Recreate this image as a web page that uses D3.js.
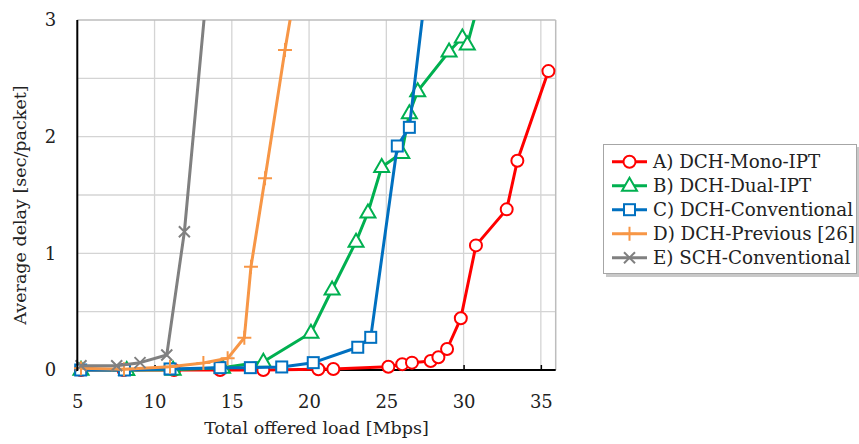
<!DOCTYPE html>
<html>
<head>
<meta charset="utf-8">
<script src="https://cdn.jsdelivr.net/npm/d3@7"></script>
<style>
  html, body { margin: 0; padding: 0; background: #fff; }
  svg { display: block; }
  text { font-family: "DejaVu Serif", serif; fill: #222; }
</style>
</head>
<body>
<svg id="chart" width="859" height="444"></svg>
<script>
// ---- data ----
const seriesNames = ["A) DCH-Mono-IPT", "B) DCH-Dual-IPT", "C) DCH-Conventional", "D) DCH-Previous [26]", "E) SCH-Conventional"];
const seriesColors = ["#ff0000", "#00b050", "#0070c0", "#f79646", "#808080"];
const seriesMarkers = ["circle", "triangle", "square", "plus", "cross"];

const loadA  = [5.24, 8.0, 11.26, 14.24, 17.04, 20.6, 21.57, 25.13, 26.03, 26.66, 27.87, 28.37, 28.93, 29.82, 30.8, 32.79, 33.48, 35.49];
const delayA = [0.0, 0.0, 0.0, 0.0, 0.0, 0.006, 0.009, 0.028, 0.05, 0.063, 0.077, 0.109, 0.18, 0.443, 1.068, 1.377, 1.794, 2.562];

const loadB  = [5.24, 8.2, 11.2, 14.4, 17.04, 20.12, 21.49, 23.04, 23.81, 24.7, 26.0, 26.49, 27.03, 29.06, 29.92, 30.24, 31.5];
const delayB = [0.003, 0.0, 0.003, 0.02, 0.07, 0.32, 0.69, 1.10, 1.35, 1.74, 1.86, 2.2, 2.39, 2.73, 2.85, 2.79, 3.4];

const loadC  = [5.22, 8.05, 11.0, 14.24, 16.2, 18.23, 20.27, 23.15, 23.99, 25.71, 26.49, 28.0];
const delayC = [0.0, 0.0, 0.009, 0.02, 0.02, 0.026, 0.063, 0.195, 0.28, 1.92, 2.08, 3.76];

const loadD  = [5.24, 8.02, 11.0, 13.16, 14.73, 15.81, 16.24, 17.15, 18.44, 19.5];
const delayD = [0.015, 0.006, 0.028, 0.06, 0.1, 0.277, 0.885, 1.643, 2.742, 3.57];

const loadE  = [5.24, 7.55, 9.06, 10.79, 11.93, 13.5];
const delayE = [0.037, 0.037, 0.063, 0.129, 1.185, 3.43];

const xTicks = [5, 10, 15, 20, 25, 30, 35];
const yTicks = [0, 1, 2, 3];
const yGrid  = [0.5, 1, 1.5, 2, 2.5];
const xLabel = "Total offered load [Mbps]";
const yLabel = "Average delay [sec/packet]";

const loads  = [loadA, loadB, loadC, loadD, loadE];
const delays = [delayA, delayB, delayC, delayD, delayE];
const series = seriesNames.map((name, i) => ({
  name, color: seriesColors[i], marker: seriesMarkers[i],
  points: loads[i].map((x, j) => ({ x, y: delays[i][j] }))
}));

// ---- layout ----
const svg = d3.select("#chart");
const x = d3.scaleLinear().domain([5, 36]).range([77.3, 556.3]);
const y = d3.scaleLinear().domain([0, 3]).range([370, 20]);
const x0 = x.range()[0], x1 = 555.7, yTop = y(3), yBot = y(0);

svg.append("defs").append("clipPath").attr("id", "plotclip")
  .append("rect").attr("x", x0 - 10).attr("y", yTop).attr("width", x1 - x0 + 20).attr("height", yBot - yTop + 12);

// grid
const grid = svg.append("g");
grid.selectAll("line.v").data(xTicks.slice(1)).join("line")
  .attr("x1", d => x(d)).attr("x2", d => x(d)).attr("y1", yTop).attr("y2", yBot)
  .attr("stroke", "#d4d4d4").attr("stroke-width", 1.3);
grid.selectAll("line.h").data(yGrid).join("line")
  .attr("x1", x0).attr("x2", x1).attr("y1", d => y(d)).attr("y2", d => y(d))
  .attr("stroke", "#d4d4d4").attr("stroke-width", 1.3);
grid.append("line").attr("x1", x0).attr("x2", x1).attr("y1", yTop).attr("y2", yTop).attr("stroke", "#bdbdbd").attr("stroke-width", 1.5);
grid.append("line").attr("x1", x1).attr("x2", x1).attr("y1", yTop).attr("y2", yBot).attr("stroke", "#bdbdbd").attr("stroke-width", 1.5);

// bottom axis line (under the series)
svg.append("line").attr("x1", x0).attr("x2", x1).attr("y1", yBot).attr("y2", yBot).attr("stroke", "#000").attr("stroke-width", 2);

// axes
const xAxis = d3.axisBottom(x).tickValues(xTicks).tickSize(-5).tickPadding(25).tickFormat(d3.format("d"));
const gx = svg.append("g").attr("transform", `translate(0,${yBot})`).call(xAxis);
gx.select(".domain").remove();
gx.selectAll(".tick line").attr("stroke", "#000").attr("stroke-width", 1.5);
gx.selectAll(".tick text").attr("font-size", 18).attr("font-family", "DejaVu Serif").attr("fill", "#222");

const yAxis = d3.axisLeft(y).tickValues(yTicks).tickSize(0).tickPadding(21).tickFormat(d3.format("d"));
const gy = svg.append("g").attr("transform", `translate(${x0},0)`).call(yAxis);
gy.select(".domain").remove();
gy.selectAll(".tick text").attr("font-size", 18).attr("font-family", "DejaVu Serif").attr("fill", "#222");

// series
const line = d3.line().x(d => x(d.x)).y(d => y(d.y));

function drawMarker(g, type, color, cx, cy) {
  const s = g.append("g").attr("transform", `translate(${cx},${cy})`);
  if (type === "circle") {
    s.append("circle").attr("r", 6).attr("fill", "#fff").attr("stroke", color).attr("stroke-width", 2);
  } else if (type === "triangle") {
    s.append("path").attr("d", "M0,-8 L7.5,5 L-7.5,5 Z").attr("fill", "#fff").attr("stroke", color).attr("stroke-width", 2);
  } else if (type === "square") {
    s.append("rect").attr("x", -5.5).attr("y", -5.5).attr("width", 11).attr("height", 11).attr("fill", "#fff").attr("stroke", color).attr("stroke-width", 2);
  } else if (type === "plus") {
    s.append("path").attr("d", "M-7,0 H7 M0,-7 V7").attr("stroke", color).attr("stroke-width", 2);
  } else if (type === "cross") {
    s.append("path").attr("d", "M-5.5,-5.5 L5.5,5.5 M-5.5,5.5 L5.5,-5.5").attr("stroke", color).attr("stroke-width", 2);
  }
}

const plot = svg.append("g").attr("clip-path", "url(#plotclip)");
series.forEach(s => {
  const g = plot.append("g");
  g.append("path").datum(s.points).attr("d", line).attr("fill", "none")
    .attr("stroke", s.color).attr("stroke-width", 3).attr("stroke-linejoin", "round");
  s.points.forEach(p => drawMarker(g, s.marker, s.color, x(p.x), y(p.y)));
});

// left axis line
svg.append("line").attr("x1", x0).attr("x2", x0).attr("y1", yTop).attr("y2", yBot + 1).attr("stroke", "#000").attr("stroke-width", 2);

// axis titles
svg.append("text").attr("x", (x0 + x1) / 2).attr("y", 434).attr("text-anchor", "middle")
  .attr("font-size", 17.5).text(xLabel);
svg.append("text").attr("transform", `translate(26,205) rotate(-90)`).attr("text-anchor", "middle")
  .attr("font-size", 17.5).text(yLabel);

// legend
const lg = svg.append("g");
lg.append("rect").attr("x", 606).attr("y", 147).attr("width", 254).attr("height", 130).attr("fill", "#c8c8c8");
lg.append("rect").attr("x", 603.5).attr("y", 144.5).attr("width", 253).attr("height", 129)
  .attr("fill", "#fff").attr("stroke", "#a6a6a6").attr("stroke-width", 1);
series.forEach((s, i) => {
  const cy = 161.7 + i * 24;
  lg.append("line").attr("x1", 612).attr("x2", 647).attr("y1", cy).attr("y2", cy).attr("stroke", s.color).attr("stroke-width", 3);
  drawMarker(lg, s.marker, s.color, 629.5, cy);
  lg.append("text").attr("x", 653).attr("y", cy + 6).attr("font-size", 18.3).text(s.name);
});
</script>
</body>
</html>
